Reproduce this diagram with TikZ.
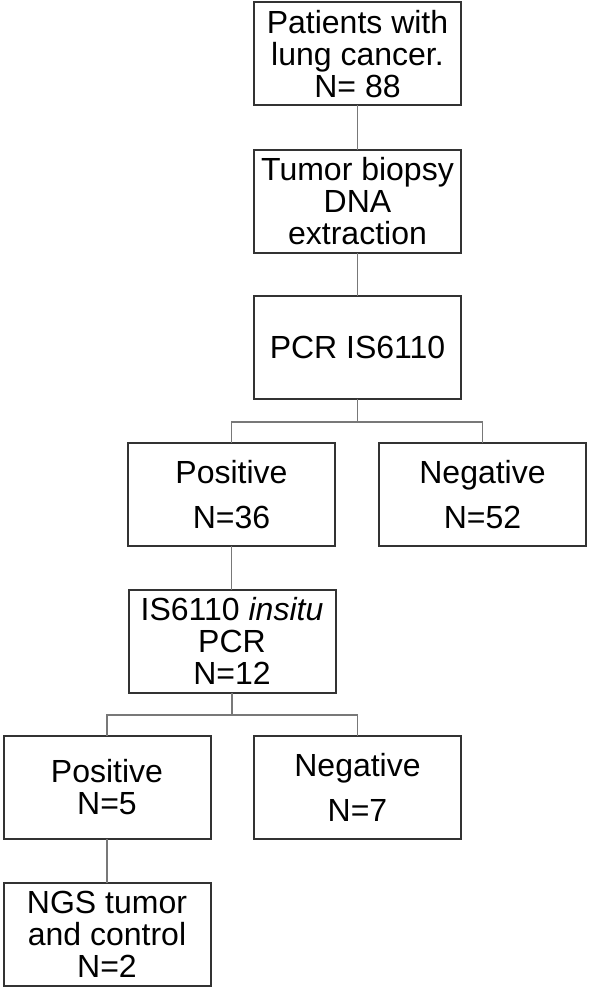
\documentclass[tikz,border=0pt]{standalone}
\usepackage{fontspec}
\setmainfont{Liberation Sans}
\definecolor{boxline}{rgb}{0.2,0.2,0.2}
\definecolor{linkline}{rgb}{0.47,0.47,0.47}
\tikzset{
    flowbox/.style={draw=boxline, line width=1pt, minimum width=103.5pt, minimum height=51.5pt,
        inner sep=0pt, outer sep=0pt, align=center, font=\fontsize{16}{16}\selectfont},
    link/.style={draw=linkline, line width=0.75pt}
}
\begin{document}
\begin{tikzpicture}[x=0.5pt, y=-0.5pt]
        \useasboundingbox (0,0) rectangle (589,990);

        \node[flowbox] (pat)  at (357.5,54)   {Patients with\\lung cancer.\\N= 88};
        \node[flowbox] (dna)  at (357.5,201)  {Tumor biopsy\\DNA\\extraction};
        \node[flowbox] (pcr)  at (357.5,347)  {PCR IS6110};
        \node[flowbox] (pos1) at (231.5,494.5) {Positive\\[6.5pt]N=36};
        \node[flowbox] (neg1) at (482.5,494.5) {Negative\\[6.5pt]N=52};
        \node[flowbox] (situ) at (232,641)    {IS6110 \textit{insitu}\\PCR\\N=12};
        \node[flowbox] (pos2) at (107,787.5)  {Positive\\N=5};
        \node[flowbox] (neg2) at (357.5,787.5) {Negative\\[6.5pt]N=7};
        \node[flowbox] (ngs)  at (107,934.5)  {NGS tumor\\and control\\N=2};

        \coordinate (split1) at (357.5,422);
        \coordinate (split2) at (232,715);

        \draw[link] (pat) -- (dna);
        \draw[link] (dna) -- (pcr);
        \draw[link] (pcr) -- (split1);
        \draw[link] (split1) -| (pos1);
        \draw[link] (split1) -| (neg1);
        \draw[link] (pos1.south) -- (situ.north -| pos1.south);
        \draw[link] (situ) -- (split2);
        \draw[link] (split2) -| (pos2);
        \draw[link] (split2) -| (neg2);
        \draw[link] (pos2) -- (ngs);
    \end{tikzpicture}
\end{document}
